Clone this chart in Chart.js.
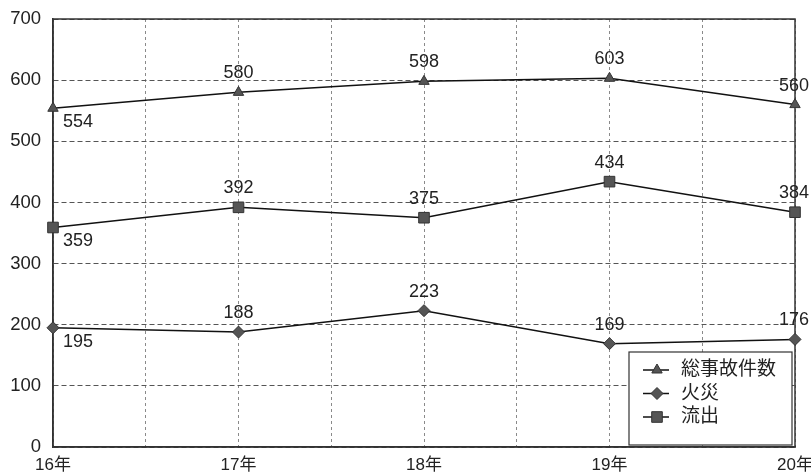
<!DOCTYPE html>
<html><head><meta charset="utf-8">
<script src="https://cdn.jsdelivr.net/npm/chart.js@4.4.1/dist/chart.umd.min.js"></script>
<style>html,body{margin:0;padding:0;background:#fff;overflow:hidden;}</style>
</head><body>
<canvas id="c" width="811" height="473"></canvas>
<script>
const categories = ['16年', '17年', '18年', '19年', '20年'];
const seriesNames = ['総事故件数', '火災', '流出'];
const totalAccidents = [554, 580, 598, 603, 560];
const fires = [195, 188, 223, 169, 176];
const spills = [359, 392, 375, 434, 384];
const yMin = 0, yMax = 700, yStep = 100;

const FONT = "'Liberation Sans', Arial, 'Noto Sans CJK JP', sans-serif";
const toPts = arr => arr.map((v, i) => ({x: i, y: v}));

const framePlugin = {
  id: 'frame',
  beforeDatasetsDraw(chart) {
    const {ctx, chartArea: a} = chart;
    ctx.save();
    ctx.strokeStyle = '#333';
    ctx.lineWidth = 1.5;
    ctx.setLineDash([]);
    ctx.strokeRect(a.left, a.top, a.right - a.left, a.bottom - a.top);
    ctx.restore();
  }
};

const labelPlugin = {
  id: 'valueLabels',
  afterDatasetsDraw(chart) {
    const ctx = chart.ctx;
    ctx.save();
    ctx.font = '18px ' + FONT;
    ctx.fillStyle = '#222';
    ctx.textBaseline = 'middle';
    chart.data.datasets.forEach((ds, di) => {
      const meta = chart.getDatasetMeta(di);
      meta.data.forEach((pt, i) => {
        const t = String(ds.data[i].y);
        if (i === 0) {
          ctx.textAlign = 'left';
          ctx.fillText(t, pt.x + 10, pt.y + 14);
        } else {
          ctx.textAlign = 'center';
          const w = ctx.measureText(t).width;
          const cx = Math.min(pt.x, chart.width - w / 2 - 2);
          ctx.fillText(t, cx, pt.y - 19);
        }
      });
    });
    ctx.restore();
  }
};

function drawMarker(ctx, style, r, x, y) {
  ctx.beginPath();
  if (style === 'triangle') {
    const s = r * Math.sqrt(3) / 2;
    ctx.moveTo(x, y - r);
    ctx.lineTo(x + s, y + r / 2);
    ctx.lineTo(x - s, y + r / 2);
    ctx.closePath();
  } else if (style === 'rectRot') {
    ctx.moveTo(x, y - r); ctx.lineTo(x + r, y); ctx.lineTo(x, y + r); ctx.lineTo(x - r, y); ctx.closePath();
  } else {
    const s = r * Math.SQRT1_2;
    ctx.rect(x - s, y - s, 2 * s, 2 * s);
  }
  ctx.fill(); ctx.stroke();
}

const legendPlugin = {
  id: 'boxLegend',
  afterDraw(chart) {
    const {ctx, chartArea: a} = chart;
    const right = a.right - 3, bottom = a.bottom - 2;
    const w = 163, h = 93;
    const left = right - w, top = bottom - h;
    ctx.save();
    ctx.fillStyle = '#fff';
    ctx.fillRect(left, top, w, h);
    ctx.strokeStyle = '#333';
    ctx.lineWidth = 1.2;
    ctx.strokeRect(left, top, w, h);
    ctx.font = '19px ' + FONT;
    ctx.textBaseline = 'middle';
    ctx.textAlign = 'left';
    chart.data.datasets.forEach((ds, i) => {
      const y = top + 18 + i * 23.5;
      ctx.strokeStyle = '#111';
      ctx.lineWidth = 1.5;
      ctx.beginPath(); ctx.moveTo(left + 14, y); ctx.lineTo(left + 40, y); ctx.stroke();
      ctx.fillStyle = '#555';
      ctx.strokeStyle = '#333';
      ctx.lineWidth = 1;
      drawMarker(ctx, ds.pointStyle, ds.pointRadius, left + 28, y);
      ctx.fillStyle = '#222';
      ctx.fillText(ds.label, left + 52, y);
    });
    ctx.restore();
  }
};

const mkDs = (label, data, style, r) => ({
  label, data: toPts(data),
  borderColor: '#111', borderWidth: 1.5,
  pointStyle: style, pointRadius: r, pointHoverRadius: r,
  pointBackgroundColor: '#555', pointBorderColor: '#333', pointBorderWidth: 1,
  tension: 0, fill: false, clip: false
});

new Chart(document.getElementById('c'), {
  type: 'line',
  data: {
    datasets: [
      mkDs(seriesNames[0], totalAccidents, 'triangle', 6),
      mkDs(seriesNames[1], fires, 'rectRot', 6),
      mkDs(seriesNames[2], spills, 'rect', 7.5)
    ]
  },
  options: {
    responsive: false,
    animation: false,
    devicePixelRatio: 1,
    layout: {padding: {top: 19, right: 16, left: 0, bottom: 0}},
    plugins: {legend: {display: false}, tooltip: {enabled: false}, title: {display: false}},
    scales: {
      x: {
        type: 'linear', min: 0, max: categories.length - 1,
        afterFit(s) { s.height = 26; s.paddingLeft = 0; s.paddingRight = 0; },
        ticks: {
          stepSize: 0.5, autoSkip: false, maxRotation: 0, padding: 8,
          color: '#222', font: {family: FONT, size: 17},
          callback: v => Number.isInteger(v) ? categories[v] : ''
        },
        grid: {color: '#8a8a8a', lineWidth: 1, drawTicks: false},
        border: {display: true, color: '#333', width: 1.5, dash: [3, 3]}
      },
      y: {
        min: yMin, max: yMax,
        afterFit(s) { s.width = 53; s.paddingTop = 0; s.paddingBottom = 0; },
        ticks: {stepSize: yStep, padding: 12, color: '#222', font: {family: FONT, size: 18.5}},
        grid: {color: '#555', lineWidth: 1, drawTicks: false},
        border: {display: true, color: '#333', width: 1.5, dash: [5, 3]}
      }
    }
  },
  plugins: [framePlugin, labelPlugin, legendPlugin]
});
</script>
</body></html>
